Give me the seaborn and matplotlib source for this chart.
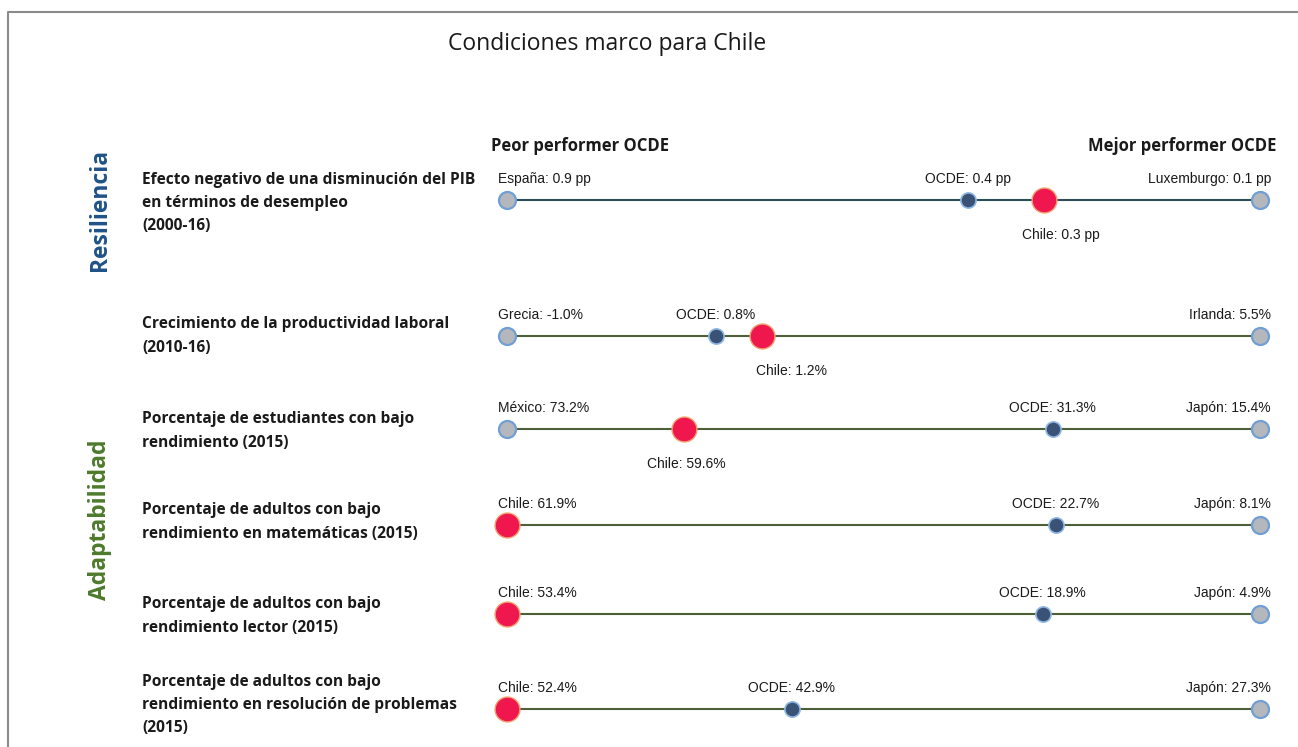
import seaborn as sns
import matplotlib.pyplot as plt
import pandas as pd

# Datos (peor, OCDE, Chile, mejor) por indicador
indicadores = [
    "Efecto negativo de una disminución del PIB\nen términos de desempleo\n(2000-16)",
    "Crecimiento de la productividad laboral\n(2010-16)",
    "Porcentaje de estudiantes con bajo\nrendimiento (2015)",
    "Porcentaje de adultos con bajo\nrendimiento en matemáticas (2015)",
    "Porcentaje de adultos con bajo\nrendimiento lector (2015)",
    "Porcentaje de adultos con bajo\nrendimiento en resolución de problemas\n(2015)",
]
peor_pais = ["España", "Grecia", "México", "Chile", "Chile", "Chile"]
peor_valor = [0.9, -1.0, 73.2, 61.9, 53.4, 52.4]
mejor_pais = ["Luxemburgo", "Irlanda", "Japón", "Japón", "Japón", "Japón"]
mejor_valor = [0.1, 5.5, 15.4, 8.1, 4.9, 27.3]
ocde_valor = [0.41, 0.8, 31.3, 22.7, 18.9, 42.9]
chile_valor = [0.33, 1.2, 59.6, 61.9, 53.4, 52.4]
unidad = [" pp", "%", "%", "%", "%", "%"]

# posición vertical de cada fila (px), desplazamiento de la etiqueta de Chile (px)
fila_y = [200, 336, 429, 525, 614, 709]
chile_dx = [17, 30, 2, 0, 0, 0]
W, H = 1298, 747

def puntaje(v, i):
    return (peor_valor[i] - v) / (peor_valor[i] - mejor_valor[i])

def fmt(v, i):
    return f"{v:.1f}{unidad[i]}"

filas = []
for i in range(len(indicadores)):
    filas.append({"fila": i, "tipo": "peor", "score": 0.0, "y": fila_y[i]})
    filas.append({"fila": i, "tipo": "mejor", "score": 1.0, "y": fila_y[i]})
    filas.append({"fila": i, "tipo": "ocde", "score": puntaje(ocde_valor[i], i), "y": fila_y[i]})
    filas.append({"fila": i, "tipo": "chile", "score": puntaje(chile_valor[i], i), "y": fila_y[i]})
df = pd.DataFrame(filas)

sns.set_style("white")
plt.rcParams['font.family'] = ['Liberation Sans', 'DejaVu Sans']
calibri = ["Open Sans", "DejaVu Sans"]

fig = plt.figure(figsize=(W / 100, H / 100), dpi=100)

# capa de fondo en píxeles para textos
bg = fig.add_axes([0, 0, 1, 1])
bg.set_xlim(0, W)
bg.set_ylim(H, 0)
bg.axis("off")
bg.plot([8, 8, W], [H, 12, 12], color="#8a8a8a", linewidth=1.5)

# eje con escala normalizada (0 = peor, 1 = mejor)
x0, x1 = 507, 1260
ax = fig.add_axes([x0 / W, 0, (x1 - x0) / W, 1])
ax.set_xlim(0, 1)
ax.set_ylim(H, 0)
ax.axis("off")
ax.patch.set_alpha(0)
px = 1 / (x1 - x0)

colores_linea = ["#2e4e57"] + ["#4d5f38"] * 5
ends = df[df.tipo.isin(["peor", "mejor"])]
for i in range(len(indicadores)):
    sns.lineplot(data=ends[ends.fila == i], x="score", y="y", ax=ax,
                 color=colores_linea[i], linewidth=1.5, estimator=None,
                 sort=False, legend=False, zorder=1)

sns.scatterplot(data=ends, x="score", y="y", ax=ax, s=150, color="#b4b8bd",
                edgecolor="#6f9fd4", linewidth=1.6, zorder=3, legend=False, clip_on=False)
sns.scatterplot(data=df[df.tipo == "ocde"], x="score", y="y", ax=ax, s=120,
                color="#3a5276", edgecolor="#8fb8e6", linewidth=1.2, zorder=4, legend=False, clip_on=False)
sns.scatterplot(data=df[df.tipo == "chile"], x="score", y="y", ax=ax, s=320,
                color="#ef174e", edgecolor="#f0a070", linewidth=1.0, zorder=5, legend=False, clip_on=False)

vfont = dict(fontsize=10, color="#1a1a1a", va="center")
for i in range(len(indicadores)):
    y = fila_y[i]
    ax.text(-9 * px, y - 21, f"{peor_pais[i]}: {fmt(peor_valor[i], i)}", ha="left", **vfont)
    ax.text(1 + 11 * px, y - 21, f"{mejor_pais[i]}: {fmt(mejor_valor[i], i)}", ha="right", **vfont)
    ax.text(puntaje(ocde_valor[i], i), y - 21, f"OCDE: {fmt(ocde_valor[i], i)}", ha="center", **vfont)
    if chile_valor[i] != peor_valor[i]:
        s_c = puntaje(chile_valor[i], i)
        ax.text(s_c + chile_dx[i] * px, y + 35, f"Chile: {fmt(chile_valor[i], i)}", ha="center", **vfont)

# textos de indicadores
centros = [203, 336, 431, 522, 616, 705]
for i, txt in enumerate(indicadores):
    bg.text(142, centros[i], txt, ha="left", va="center", fontsize=11.2,
            fontweight="bold", family=calibri, color="#1a1a1a", linespacing=1.6)

bg.text(607, 44, "Condiciones marco para Chile", ha="center", va="center",
        fontsize=16.5, family=calibri, color="#1a1a1a")
bg.text(491, 146, "Peor performer OCDE", ha="left", va="center", fontsize=12,
        fontweight="bold", family=calibri, color="#1a1a1a")
bg.text(1276, 146, "Mejor performer OCDE", ha="right", va="center", fontsize=12,
        fontweight="bold", family=calibri, color="#1a1a1a")

bg.text(100, 210, "Resiliencia", rotation=90, ha="center", va="center",
        fontsize=16.5, fontweight="bold", family=calibri, color="#1f5287")
bg.text(100, 520, "Adaptabilidad", rotation=90, ha="center", va="center",
        fontsize=16.5, fontweight="bold", family=calibri, color="#4e7a2c")

fig.savefig("out.png", dpi=100)
